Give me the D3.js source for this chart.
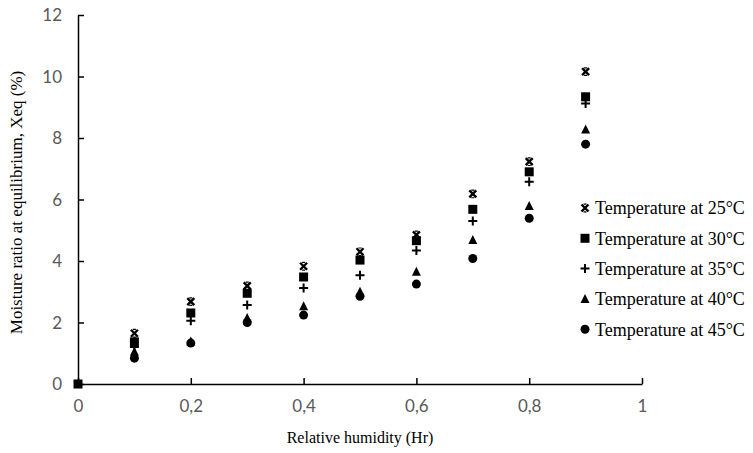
<!DOCTYPE html>
<html>
<head>
<meta charset="utf-8">
<script src="https://cdn.jsdelivr.net/npm/d3@7"></script>
<style>
  html, body { margin: 0; padding: 0; background: #fff; }
  svg { display: block; }
</style>
</head>
<body>
<svg id="chart" width="753" height="453"></svg>
<script>
// Relative humidity levels (Hr)
const humidity = [0, 0.1, 0.2, 0.3, 0.4, 0.5, 0.6, 0.7, 0.8, 0.9];

// Equilibrium moisture ratio Xeq (%) per temperature; null = not measured
const xeq25 = [null, 1.65, 2.68, 3.19, 3.83, 4.30, 4.85, 6.18, 7.23, 10.16];
const xeq30 = [0,    1.37, 2.31, 2.95, 3.48, 4.03, 4.66, 5.68, 6.90, 9.34];
const xeq35 = [null, 1.20, 2.06, 2.57, 3.12, 3.54, 4.34, 5.30, 6.58, 9.12];
const xeq40 = [null, 1.05, 1.38, 2.15, 2.53, 3.00, 3.65, 4.68, 5.79, 8.28];
const xeq45 = [null, 0.84, 1.33, 2.00, 2.24, 2.85, 3.25, 4.08, 5.39, 7.80];

const seriesNames = ["Temperature at 25°C", "Temperature at 30°C", "Temperature at 35°C",
                     "Temperature at 40°C", "Temperature at 45°C"];
const seriesValues = [xeq25, xeq30, xeq35, xeq40, xeq45];
const seriesShapes = ["star", "square", "plus", "triangle", "circle"];

const xTicks = [0, 0.2, 0.4, 0.6, 0.8, 1];
const yTicks = [0, 2, 4, 6, 8, 10, 12];

const svg = d3.select("#chart");
const plot = { left: 78, right: 642, top: 15, bottom: 384 };

const x = d3.scaleLinear().domain([0, 1]).range([plot.left, plot.right]);
const y = d3.scaleLinear().domain([0, 12]).range([plot.bottom, plot.top]);

const fmt = d => String(d).replace(".", ",");
const serif = "'Liberation Serif', 'Times New Roman', serif";

// Axes with inside tick marks
const xAxis = svg.append("g")
  .attr("transform", `translate(0,${plot.bottom})`)
  .call(d3.axisBottom(x).tickValues(xTicks).tickSizeInner(-6).tickSizeOuter(0).tickPadding(16).tickFormat(fmt));
const yAxis = svg.append("g")
  .attr("transform", `translate(${plot.left},0)`)
  .call(d3.axisLeft(y).tickValues(yTicks).tickSizeInner(-6).tickSizeOuter(0).tickPadding(16).tickFormat(fmt));

[xAxis, yAxis].forEach(a => {
  a.select(".domain").attr("stroke", "#000").attr("stroke-width", 1.5);
  a.selectAll(".tick line").attr("stroke", "#000").attr("stroke-width", 1.5);
  a.selectAll(".tick text")
    .attr("fill", "#595959")
    .style("font-family", "Lato, 'Open Sans', sans-serif")
    .style("font-size", "17px");
});
yAxis.selectAll(".tick text").attr("dy", "0.35em");
xAxis.selectAll(".tick text").attr("dy", "0.71em");

// Axis titles
svg.append("text")
  .attr("x", (plot.left + plot.right) / 2)
  .attr("y", 443)
  .attr("text-anchor", "middle")
  .style("font-family", serif)
  .style("font-size", "16px")
  .attr("fill", "#000")
  .text("Relative humidity (Hr)");

svg.append("text")
  .attr("transform", `translate(22,${(plot.top + plot.bottom) / 2 + 3}) rotate(-90)`)
  .attr("text-anchor", "middle")
  .style("font-family", serif)
  .style("font-size", "17px")
  .attr("fill", "#000")
  .text("Moisture ratio at equilibrium, Xeq (%)");

// Marker drawing
function drawMarker(g, shape, cx, cy) {
  const s = 4.5;
  if (shape === "square") {
    g.append("rect").attr("x", cx - s).attr("y", cy - s).attr("width", 2 * s).attr("height", 2 * s).attr("fill", "#000");
  } else if (shape === "circle") {
    g.append("circle").attr("cx", cx).attr("cy", cy).attr("r", s).attr("fill", "#000");
  } else if (shape === "triangle") {
    g.append("path").attr("d", `M${cx},${cy - s - 0.5}L${cx + s},${cy + s - 0.5}L${cx - s},${cy + s - 0.5}Z`).attr("fill", "#000");
  } else if (shape === "plus") {
    g.append("path").attr("d", `M${cx - s},${cy}H${cx + s}M${cx},${cy - s}V${cy + s}`)
      .attr("stroke", "#000").attr("stroke-width", 2).attr("fill", "none");
  } else if (shape === "star") {
    const t = 3.5;
    g.append("path").attr("d", `M${cx - t},${cy - t}L${cx + t},${cy + t}M${cx + t},${cy - t}L${cx - t},${cy + t}`)
      .attr("stroke", "#000").attr("stroke-width", 2.4).attr("fill", "none");
    g.append("path").attr("d", `M${cx - 1.5},${cy - t - 0.3}H${cx + 1.5}M${cx - 1.5},${cy + t + 0.3}H${cx + 1.5}`)
      .attr("stroke", "#000").attr("stroke-width", 1.2).attr("fill", "none");
  }
}

// Data points, later series drawn on top
const pts = svg.append("g");
seriesValues.forEach((vals, i) => {
  vals.forEach((v, j) => {
    if (v === null) return;
    drawMarker(pts, seriesShapes[i], x(humidity[j]), y(v));
  });
});

// Legend
const legend = svg.append("g");
seriesNames.forEach((name, i) => {
  const ly = 208 + i * 30.3;
  drawMarker(legend, seriesShapes[i], 585, ly);
  legend.append("text")
    .attr("x", 595)
    .attr("y", ly)
    .attr("dy", "0.35em")
    .style("font-family", serif)
    .style("font-size", "18px")
    .attr("fill", "#000")
    .text(name);
});
</script>
</body>
</html>
